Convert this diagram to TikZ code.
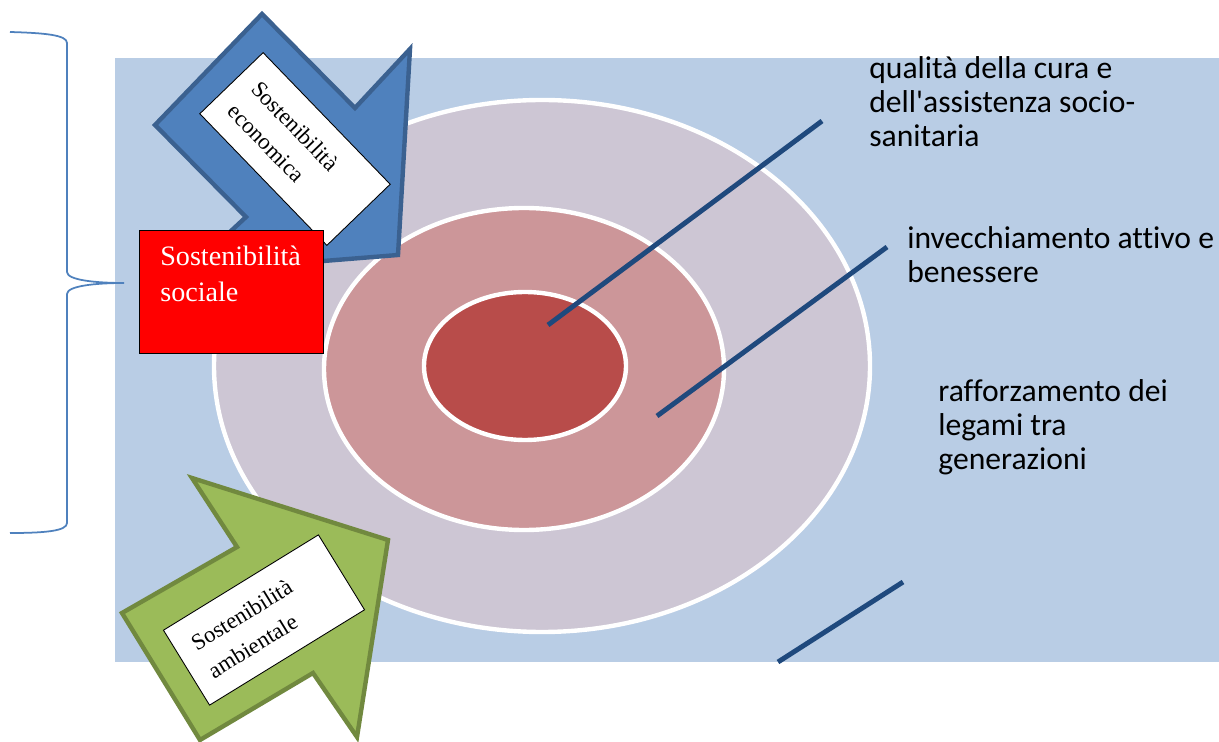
\documentclass[tikz,border=0pt]{standalone}
\usepackage{fontspec}
\setmainfont{Liberation Serif}
\newfontfamily\calibfont[Ligatures=NoCommon]{Carlito}
\usetikzlibrary{positioning,shapes.geometric}
\definecolor{bgblue}{HTML}{B9CDE5}
\definecolor{ringout}{HTML}{CDC6D4}
\definecolor{ringmid}{HTML}{CC9699}
\definecolor{ringin}{HTML}{B84C4A}
\definecolor{linecol}{HTML}{1F497D}
\definecolor{ecofill}{HTML}{4F81BD}
\definecolor{ecoline}{HTML}{3B6190}
\definecolor{envfill}{HTML}{9BBB59}
\definecolor{envline}{HTML}{71893F}
\definecolor{bracecol}{HTML}{4F81BD}
\begin{document}
\begin{tikzpicture}[x=0.02cm,y=-0.02cm,
 ring/.style={draw=white,line width=2.5pt},
 pointer/.style={draw=linecol,line width=2.8pt},
 bigarrow/.style={line width=2.5pt,line join=miter},
 labelbox/.style={draw=black,fill=white,line width=0.5pt,minimum height=1.76cm,
 text width=2.94cm,inner xsep=0.35cm,align=left,font=\fontsize{13}{18.5}\selectfont},
 socialbox/.style={draw=black,fill=red,line width=0.8pt,minimum width=3.68cm,minimum height=2.46cm,anchor=north west},
 socialtext/.style={text=white,align=left,inner sep=0pt,anchor=base west,font=\fontsize{16}{20.5}\selectfont},
 caption/.style={align=left,inner sep=0pt,anchor=base west,font=\calibfont\fontsize{18}{19.6}\selectfont}]
\useasboundingbox (0,0) rectangle (1219,742);
% background and rings
\fill[bgblue] (115,58) rectangle (1219,662);
\filldraw[ring,fill=ringout] (542,366) ellipse [x radius=328,y radius=266];
\filldraw[ring,fill=ringmid] (524,369) ellipse [x radius=200,y radius=161];
\filldraw[ring,fill=ringin] (525,366) ellipse [x radius=101,y radius=74];
% pointers
\coordinate (core) at (548,325);
\coordinate (curaend) at (822,121);
\coordinate (midpt) at (657,416);
\coordinate (attivoend) at (887,247);
\coordinate (lowpt) at (778,662);
\coordinate (legamiend) at (903,582);
\draw[pointer] (core) -- (curaend);
\draw[pointer] (midpt) -- (attivoend);
\draw[pointer] (lowpt) -- (legamiend);
% economic arrow
\filldraw[bigarrow,draw=ecoline,fill=ecofill] (262,14) -- (355,108) -- (410,49) -- (398,255)
 -- (187,272) -- (246,217) -- (155,125) -- cycle;
\node[labelbox,minimum width=3.66cm,rotate=-46] (eco) at (295,149) {Sostenibilità\\economica};
% social box
\node[socialbox] (social) at (139,230) {};
\node[socialtext] (socialtxt) at (160,302) {Sostenibilità\\sociale};
% environmental arrow
\filldraw[bigarrow,draw=envline,fill=envfill] (192,478) -- (237,547) -- (122,613) -- (200,740)
 -- (313,673) -- (357,737) -- (388,540) -- cycle;
\node[labelbox,minimum width=3.6cm,rotate=31.6] (env) at (264,620) {Sostenibilità\\ambientale};
% brace
\draw[bracecol,line width=1pt] (10,32) .. controls (45,33) and (67,35) .. (67,43) -- (67,272)
 .. controls (67,280) and (95,283) .. (124,283) .. controls (95,283) and (67,286) .. (67,294)
 -- (67,523) .. controls (67,531) and (45,533) .. (10,533);
% captions
\node[caption] (cura) at (869,147) {qualità della cura e\\dell'assistenza socio-\\sanitaria};
\node[caption] (attivo) at (907,283) {invecchiamento attivo e\\benessere};
\node[caption] (legami) at (938,470) {rafforzamento dei\\legami tra\\generazioni};
\end{tikzpicture}
\end{document}
